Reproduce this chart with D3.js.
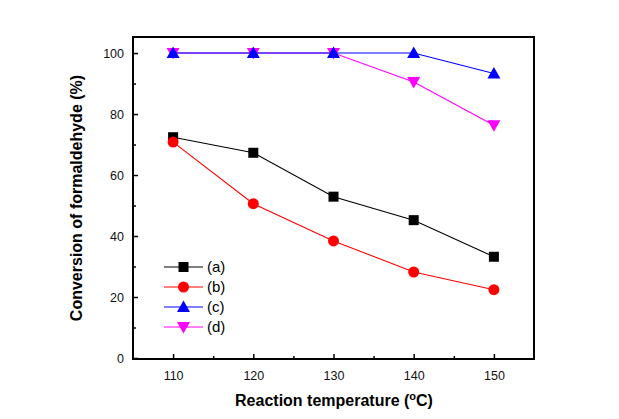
<!DOCTYPE html>
<html><head><meta charset="utf-8">
<script src="https://cdn.jsdelivr.net/npm/d3@7"></script>
<style>body{margin:0;background:#fff}svg{display:block}text{font-family:"Liberation Sans",Arial,sans-serif}</style>
</head><body>
<script>
const temps = [110, 120, 130, 140, 150];
const seriesA = [72.4, 67.3, 52.9, 45.2, 33.2];
const seriesB = [70.8, 50.6, 38.4, 28.2, 22.4];
const seriesC = [100, 100, 100, 100, 93.3];
const seriesD = [100, 100, 100, 90.5, 76.3];
const labels = ["(a)", "(b)", "(c)", "(d)"];
const xTicks = [110, 120, 130, 140, 150];
const yTicks = [0, 20, 40, 60, 80, 100];

const series = [
  {name: labels[0], values: seriesA, color: "#000000", shape: "square"},
  {name: labels[1], values: seriesB, color: "#ff0000", shape: "circle"},
  {name: labels[2], values: seriesC, color: "#0000ff", shape: "up"},
  {name: labels[3], values: seriesD, color: "#ff00ff", shape: "down"}
];

const W = 619, H = 419;
const m = {left: 133, top: 37, right: 534, bottom: 359};
const svg = d3.select("body").append("svg").attr("width", W).attr("height", H);
const x = d3.scaleLinear().domain([105, 155]).range([m.left, m.right]);
const y = d3.scaleLinear().domain([0, 105]).range([358, 37.8]);

function marker(sel, shape, color) {
  if (shape === "square") sel.append("rect").attr("x", -5).attr("y", -5).attr("width", 10).attr("height", 10).attr("fill", color);
  else if (shape === "circle") sel.append("circle").attr("r", 5.5).attr("fill", color);
  else if (shape === "up") sel.append("path").attr("d", "M0,-6.5L6.5,5L-6.5,5Z").attr("fill", color);
  else sel.append("path").attr("d", "M0,6.5L6.5,-5L-6.5,-5Z").attr("fill", color);
}

// axes
const xAxis = d3.axisBottom(x).tickValues(xTicks).tickSize(-5).tickPadding(12).tickFormat(d3.format("d"));
const xMinor = d3.axisBottom(x).tickValues([115,125,135,145]).tickSize(-3).tickFormat("");
const yAxis = d3.axisLeft(y).tickValues(yTicks).tickSize(-5).tickPadding(9).tickFormat(d3.format("d"));
const yMinor = d3.axisLeft(y).tickValues([10,30,50,70,90]).tickSize(-3).tickFormat("");

function style(g) {
  g.select(".domain").remove();
  g.selectAll("line").attr("stroke", "#000").attr("stroke-width", 1.5);
  g.selectAll("text").attr("font-size", 12.5).attr("fill", "#111");
}
svg.append("g").attr("transform", `translate(0,${m.bottom})`).call(xAxis).call(style);
svg.append("g").attr("transform", `translate(0,${m.bottom})`).call(xMinor).call(style);
svg.append("g").attr("transform", `translate(${m.left},0)`).call(yAxis).call(style);
svg.append("g").attr("transform", `translate(${m.left},0)`).call(yMinor).call(style);

svg.append("rect").attr("x", m.left).attr("y", m.top).attr("width", m.right - m.left).attr("height", m.bottom - m.top)
  .attr("fill", "none").attr("stroke", "#000").attr("stroke-width", 2);

// series
const line = d3.line().x((d, i) => x(temps[i])).y(d => y(d));
// draw in order: a, b, d, c (c on top)
[series[0], series[1], series[3], series[2]].forEach(s => {
  svg.append("path").attr("d", line(s.values)).attr("fill", "none").attr("stroke", s.color).attr("stroke-width", 1.1);
  s.values.forEach((v, i) => {
    const g = svg.append("g").attr("transform", `translate(${x(temps[i])},${y(v)})`);
    marker(g, s.shape, s.color);
  });
});

// legend
series.forEach((s, i) => {
  const ly = 267 + i * 20;
  svg.append("line").attr("x1", 164).attr("x2", 203).attr("y1", ly).attr("y2", ly).attr("stroke", s.color).attr("stroke-width", 1.1);
  marker(svg.append("g").attr("transform", `translate(183.5,${ly})`), s.shape, s.color);
  svg.append("text").attr("x", 207).attr("y", ly + 5).attr("font-size", 15).text(s.name);
});

// titles
svg.append("text").attr("x", 334).attr("y", 406).attr("text-anchor", "middle").attr("font-size", 16).attr("font-weight", "bold")
  .html('Reaction temperature (<tspan dy="-6" font-size="11">o</tspan><tspan dy="6">C)</tspan>');
svg.append("text").attr("transform", "translate(82,198) rotate(-90)").attr("text-anchor", "middle").attr("font-size", 16).attr("font-weight", "bold")
  .text("Conversion of formaldehyde (%)");
</script>
</body></html>
